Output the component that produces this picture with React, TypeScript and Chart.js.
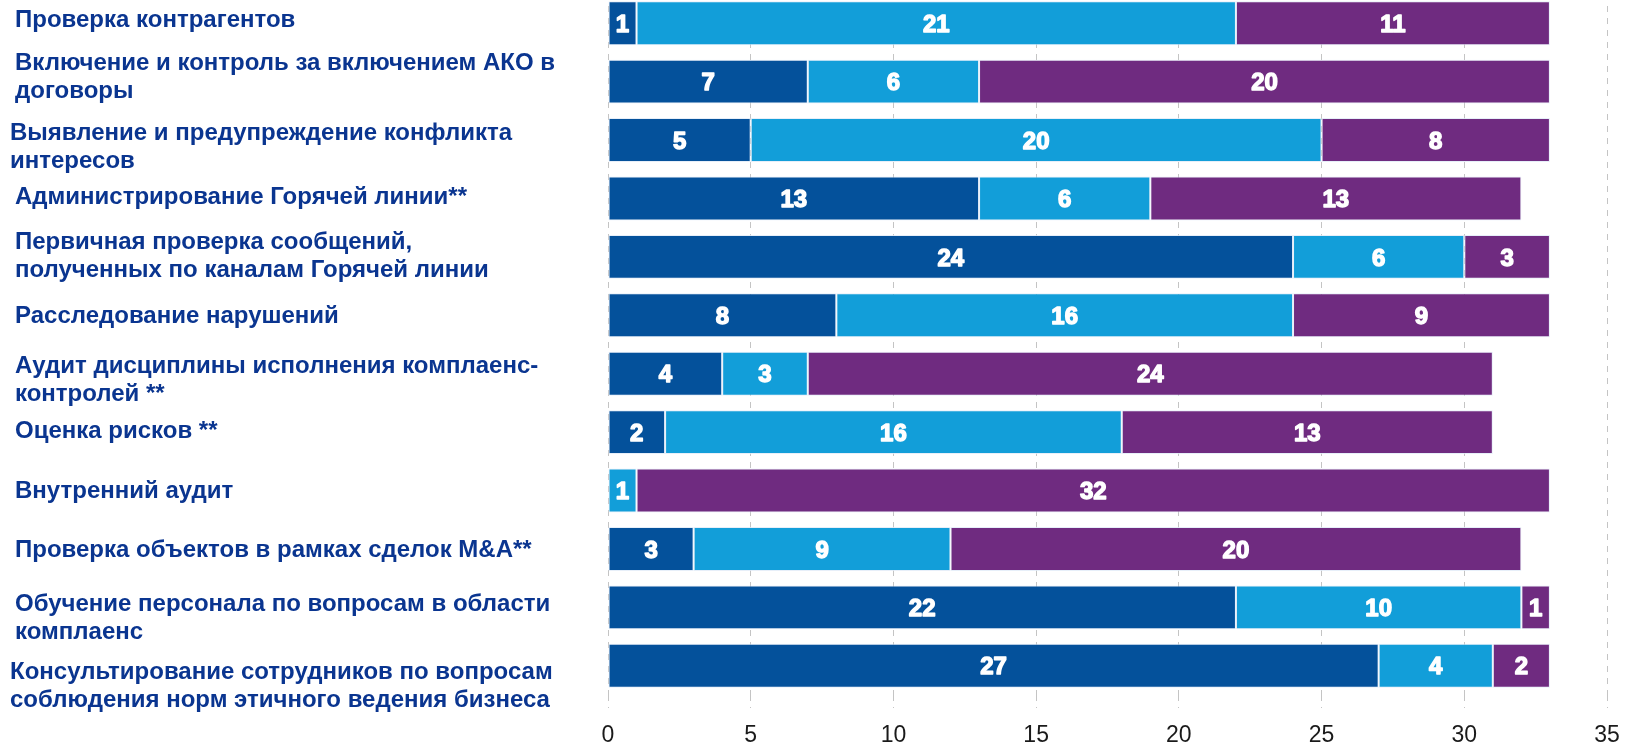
import React, { useEffect, useRef } from "react";
import { Chart, registerables } from "chart.js";

Chart.register(...registerables);

const categories: string[][] = [
  ["Проверка контрагентов"],
  ["Включение и контроль за включением АКО в", "договоры"],
  ["Выявление и предупреждение конфликта", "интересов"],
  ["Администрирование Горячей линии**"],
  ["Первичная проверка сообщений,", "полученных по каналам Горячей линии"],
  ["Расследование нарушений"],
  ["Аудит дисциплины исполнения комплаенс-", "контролей **"],
  ["Оценка рисков **"],
  ["Внутренний аудит"],
  ["Проверка объектов в рамках сделок M&A**"],
  ["Обучение персонала по вопросам в области", "комплаенс"],
  ["Консультирование сотрудников по вопросам", "соблюдения норм этичного ведения бизнеса"],
];

const darkBlueValues = [1, 7, 5, 13, 24, 8, 4, 2, 0, 3, 22, 27];
const lightBlueValues = [21, 6, 20, 6, 6, 16, 3, 16, 1, 9, 10, 4];
const purpleValues = [11, 20, 8, 13, 3, 9, 24, 13, 32, 20, 1, 2];

const xMin = 0;
const xMax = 35;
const xStep = 5;

// text nudges for category labels (styling only)
const labelNudgeY = [-3, -4, 7, -1, -1, 1, 7, -1, 1, 1, 11, 21];
const labelNudgeX = [0, 0, -5, 0, 0, 0, 0, 0, 0, 0, 0, -5];

const COLORS = ["#04519B", "#129ED9", "#6F2B80"];
const LABEL_COLOR = "#0A3590";
const FONT = "'Liberation Sans', Arial, sans-serif";

export default function App() {
  const ref = useRef<HTMLCanvasElement | null>(null);

  useEffect(() => {
    if (!ref.current) return;

    const valueLabels = {
      id: "valueLabels",
      afterDatasetsDraw(chart: any) {
        const ctx = chart.ctx;
        ctx.save();
        ctx.font = `bold 24px ${FONT}`;
        ctx.fillStyle = "#ffffff";
        ctx.strokeStyle = "#ffffff";
        ctx.lineWidth = 1.4;
        ctx.lineJoin = "round";
        ctx.textAlign = "center";
        ctx.textBaseline = "middle";
        chart.data.datasets.forEach((ds: any, di: number) => {
          const meta = chart.getDatasetMeta(di);
          meta.data.forEach((el: any, i: number) => {
            const v = ds.data[i];
            if (!v) return;
            const cx = (el.x + el.base) / 2;
            ctx.fillText(String(v), cx, el.y + 2);
            ctx.strokeText(String(v), cx, el.y + 2);
          });
        });
        ctx.restore();
      },
    };

    const categoryLabels = {
      id: "categoryLabels",
      afterDraw(chart: any) {
        const ctx = chart.ctx;
        const yScale = chart.scales.y;
        ctx.save();
        ctx.font = `bold 24px ${FONT}`;
        ctx.fillStyle = LABEL_COLOR;
        ctx.textAlign = "left";
        ctx.textBaseline = "middle";
        const lh = 28;
        categories.forEach((lines, i) => {
          const cy = yScale.getPixelForValue(i) + labelNudgeY[i];
          const start = cy - ((lines.length - 1) * lh) / 2;
          lines.forEach((ln, k) => {
            ctx.fillText(ln, 15 + labelNudgeX[i], start + k * lh);
          });
        });
        ctx.restore();
      },
    };

    const chart = new Chart(ref.current, {
      type: "bar",
      data: {
        labels: categories.map((c) => c.join(" ")),
        datasets: [
          { label: "A", data: darkBlueValues, backgroundColor: COLORS[0] },
          { label: "B", data: lightBlueValues, backgroundColor: COLORS[1] },
          { label: "C", data: purpleValues, backgroundColor: COLORS[2] },
        ].map((d) => ({
          ...d,
          borderColor: "rgba(225,235,248,0.8)",
          borderWidth: 1,
          borderSkipped: false,
          barPercentage: 0.753,
          categoryPercentage: 1,
        })),
      },
      options: {
        indexAxis: "y",
        animation: false,
        responsive: true,
        maintainAspectRatio: false,
        layout: { padding: { left: 14, top: 4, right: 27, bottom: 0 } },
        plugins: {
          legend: { display: false },
          tooltip: { enabled: false },
        },
        scales: {
          x: {
            stacked: true,
            min: xMin,
            max: xMax,
            ticks: {
              stepSize: xStep,
              color: "#1a1a1a",
              font: { family: FONT, size: 23 },
              padding: 14,
            },
            grid: {
              color: "#c4c4c4",
              lineWidth: 1,
              tickLength: 13,
              tickColor: "#c4c4c4",
              tickBorderDash: [6, 6],
            },
            border: { display: false, dash: [6, 6] },
            afterFit(scale: any) {
              scale.height = 49;
            },
          },
          y: {
            stacked: true,
            ticks: { display: false },
            grid: { display: false },
            border: { display: false },
            afterFit(scale: any) {
              scale.width = 594;
            },
          },
        },
      },
      plugins: [valueLabels, categoryLabels],
    });

    return () => chart.destroy();
  }, []);

  return (
    <div
      style={{
        position: "absolute",
        left: 0,
        top: -10,
        width: 1634,
        height: 754,
      }}
    >
      <canvas ref={ref} />
    </div>
  );
}
